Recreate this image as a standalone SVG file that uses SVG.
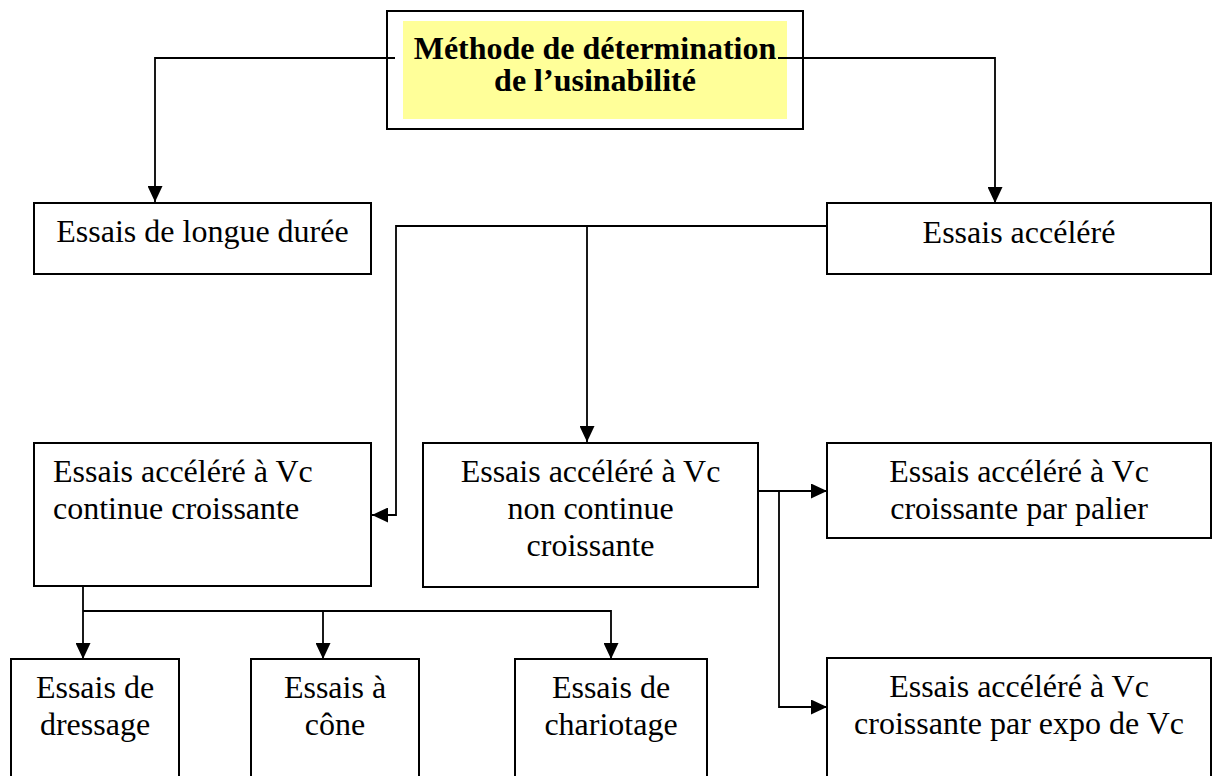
<svg xmlns="http://www.w3.org/2000/svg" width="1213" height="776" viewBox="0 0 1213 776">
<style>
.box{fill:#ffffff;stroke:#000000;stroke-width:2}
.t{font-family:"Liberation Serif","Times New Roman",serif;font-size:32px;fill:#000000}
.c{text-anchor:middle}
.b{font-weight:bold}
.ln{fill:none;stroke:#000000;stroke-width:1.8;marker-end:url(#ah)}
</style>
<defs>
<marker id="ah" viewBox="0 0 16 15" refX="16" refY="7.5" markerWidth="16" markerHeight="15" markerUnits="userSpaceOnUse" orient="auto">
<path d="M0,0 L16,7.5 L0,15 z" fill="#000000"/>
</marker>
</defs>
<rect width="1213" height="776" fill="#ffffff"/>
<g id="title">
<rect class="box" x="387" y="11" width="416" height="118"/>
<rect x="403" y="21" width="384" height="98" fill="#ffff99"/>
<text class="t c b" x="595" y="59">Méthode de détermination</text>
<text class="t c b" x="595" y="91">de l’usinabilité</text>
</g>
<g id="connectors">
<path class="ln" d="M395,58 H155 V202"/>
<path class="ln" d="M778,58 H995 V203"/>
<path class="ln" d="M827,226 H396 V515 H372"/>
<path class="ln" d="M587,226 V442"/>
<path class="ln" d="M754,491 H827"/>
<path class="ln" d="M779,491 V707 H827"/>
<path class="ln" d="M83,587 V659"/>
<path class="ln" d="M83,611 H611 V659"/>
<path class="ln" d="M323,611 V659"/>
</g>
<g id="longue">
<rect class="box" x="34" y="203" width="337" height="71"/>
<text class="t c" x="202.5" y="242">Essais de longue durée</text>
</g>
<g id="accelere">
<rect class="box" x="827" y="203" width="384" height="71"/>
<text class="t c" x="1019" y="243">Essais accéléré</text>
</g>
<g id="continue">
<rect class="box" x="34" y="443" width="337" height="143"/>
<text class="t" x="53" y="482">Essais accéléré à Vc</text>
<text class="t" x="53" y="519">continue croissante</text>
</g>
<g id="noncontinue">
<rect class="box" x="423" y="443" width="335" height="144"/>
<text class="t c" x="590.5" y="482">Essais accéléré à Vc</text>
<text class="t c" x="590.5" y="519">non continue</text>
<text class="t c" x="590.5" y="556">croissante</text>
</g>
<g id="palier">
<rect class="box" x="827" y="443" width="384" height="95"/>
<text class="t c" x="1019" y="482">Essais accéléré à Vc</text>
<text class="t c" x="1019" y="519">croissante par palier</text>
</g>
<g id="expo">
<rect class="box" x="827" y="658" width="384" height="140"/>
<text class="t c" x="1019" y="697">Essais accéléré à Vc</text>
<text class="t c" x="1019" y="734">croissante par expo de Vc</text>
</g>
<g id="dressage">
<rect class="box" x="11" y="659" width="168" height="140"/>
<text class="t c" x="95" y="698">Essais de</text>
<text class="t c" x="95" y="735">dressage</text>
</g>
<g id="cone">
<rect class="box" x="251" y="659" width="168" height="140"/>
<text class="t c" x="335" y="698">Essais à</text>
<text class="t c" x="335" y="735">cône</text>
</g>
<g id="chariotage">
<rect class="box" x="515" y="659" width="192" height="140"/>
<text class="t c" x="611" y="698">Essais de</text>
<text class="t c" x="611" y="735">chariotage</text>
</g>
</svg>
